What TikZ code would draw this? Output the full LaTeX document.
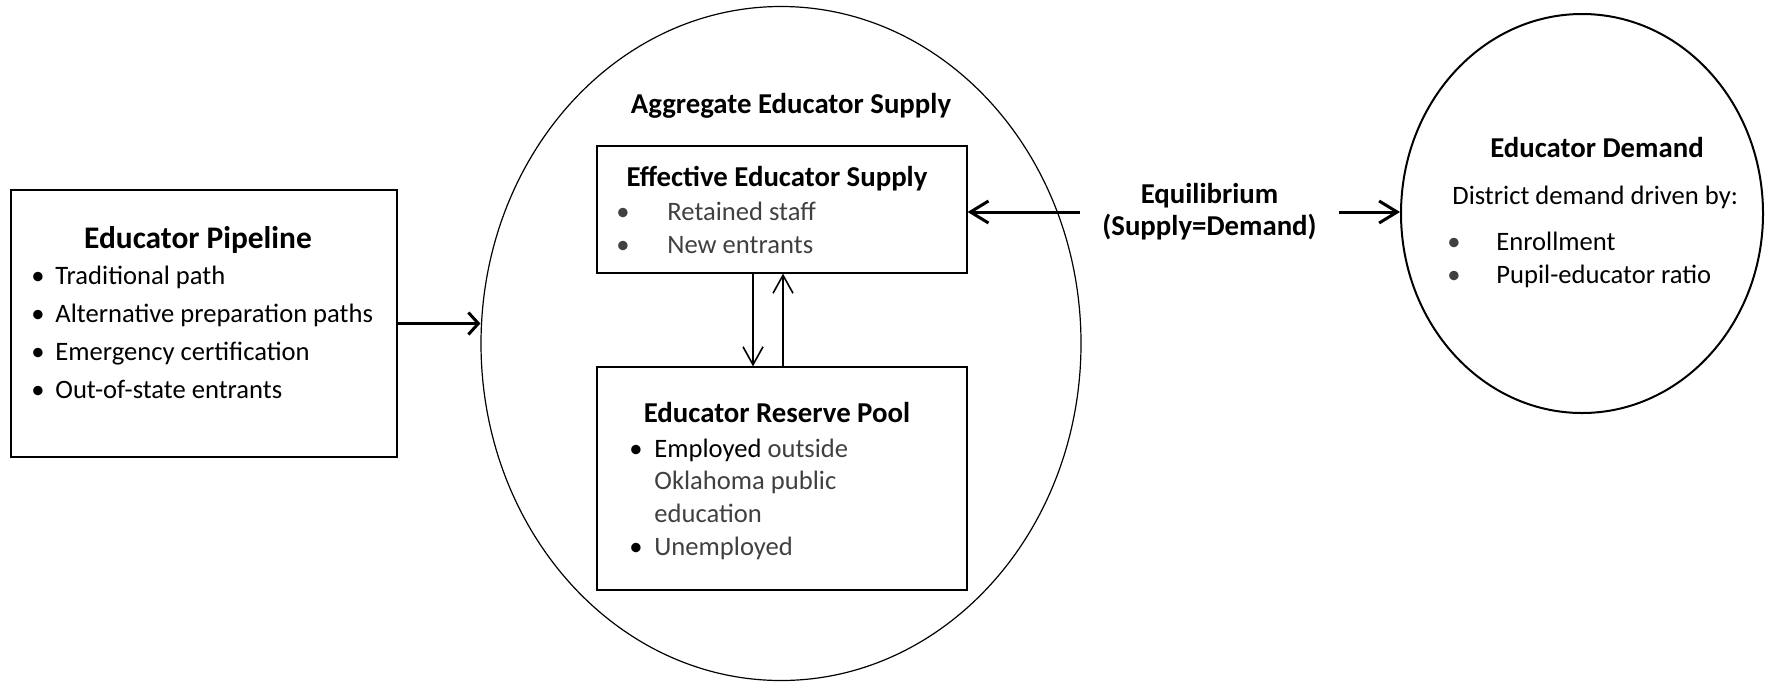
\documentclass[tikz,border=0pt]{standalone}
\usepackage{fontspec}
\setmainfont{Carlito}
\usetikzlibrary{shapes.geometric,arrows.meta}
\definecolor{textgray}{HTML}{404040}
\newcommand{\bodysize}{\fontsize{13.3}{16.5}\selectfont}
\newcommand{\headsize}{\fontsize{14.4}{16}\selectfont\bfseries}
\newcommand{\bigheadsize}{\fontsize{15.7}{18}\selectfont\bfseries}

\begin{document}
\begin{tikzpicture}
[x=0.5pt,y=-0.5pt,
  boxDecorate/.style={shape=rectangle,draw,line width=0.6pt,inner sep=0pt},%
  ellipseDecorate/.style={shape=ellipse,draw,line width=0.6pt,inner sep=0pt},%
  titleDecorate/.style={anchor=base,inner sep=0pt,font=\headsize},%
  itemDecorate/.style={anchor=base west,inner sep=0pt,font=\bodysize},%
  dotDecorate/.style={anchor=base,inner sep=0pt,font=\bodysize},%
  thickArrow/.style={-{Straight Barb[length=5pt,width=11pt]},line width=1.5pt},%
  wideArrow/.style={-{Straight Barb[length=9pt,width=11pt]},line width=1.5pt},%
  thinArrow/.style={-{Straight Barb[length=9pt,width=10pt]},line width=0.8pt}]
\useasboundingbox (0,0) rectangle (1765,681);
%% outer shapes
\node (pipeline) at (204,323.5) [boxDecorate,minimum width=193pt,minimum height=133.5pt] {};
\node (supply) at (781,343.5) [ellipseDecorate,minimum width=300pt,minimum height=337pt] {};
\node (effective) at (782,209.5) [boxDecorate,minimum width=185pt,minimum height=63.5pt] {};
\node (reserve) at (782,478.5) [boxDecorate,minimum width=185pt,minimum height=111.5pt] {};
\node (demand) at (1582,213.5) [ellipseDecorate,line width=1pt,minimum width=181pt,minimum height=199.5pt] {};
\node (equil) at (1209.5,212) [font=\headsize,align=center,inner xsep=11pt] {Equilibrium\\(Supply=Demand)};

%% titles
\node (pipelineTitle) at (198,248) [titleDecorate,font=\bigheadsize] {Educator Pipeline};
\node (supplyTitle) at (791,113) [titleDecorate] {Aggregate Educator Supply};
\node (effectiveTitle) at (777,186) [titleDecorate] {Effective Educator Supply};
\node (reserveTitle) at (777,422) [titleDecorate] {Educator Reserve Pool};
\node (demandTitle) at (1597,157) [titleDecorate] {Educator Demand};

%% bullet lists
\foreach \i/\y/\txt in {1/284/Traditional path, 2/322/Alternative preparation paths,
  3/360/Emergency certification, 4/398/Out-of-state entrants}
{
  \node (pipeDot\i) at (38,\y) [dotDecorate] {\textbullet};
  \node (pipeItem\i) at (55,\y) [itemDecorate] {\txt};
}
\foreach \i/\y/\txt in {1/220/Retained staff, 2/253/New entrants}
{
  \node (effDot\i) at (623,\y) [dotDecorate,text=textgray] {\textbullet};
  \node (effItem\i) at (667,\y) [itemDecorate,text=textgray] {\txt};
}
\node (resDot1) at (636,457) [dotDecorate] {\textbullet};
\node (resItem1) at (654,457) [itemDecorate] {Employed \textcolor{textgray}{outside}};
\node (resItem2) at (654,489) [itemDecorate,text=textgray] {Oklahoma public};
\node (resItem3) at (654,522) [itemDecorate,text=textgray] {education};
\node (resDot2) at (636,555) [dotDecorate] {\textbullet};
\node (resItem4) at (654,555) [itemDecorate,text=textgray] {Unemployed};
\node (demandLead) at (1452,204) [itemDecorate] {District demand driven by:};
\foreach \i/\y/\txt in {1/250/Enrollment, 2/283/Pupil-educator ratio}
{
  \node (demDot\i) at (1454,\y) [dotDecorate,text=textgray] {\textbullet};
  \node (demItem\i) at (1496,\y) [itemDecorate] {\txt};
}

%% connectors
\draw[thickArrow] (pipeline.east) -- (pipeline.east -| supply.west);
\draw[wideArrow] (equil.west) -- (equil.west -| effective.east);
\draw[wideArrow] (equil.east) -- (equil.east -| demand.west);
\draw[thinArrow] ([xshift=-14.5pt]effective.south) -- ([xshift=-14.5pt]reserve.north);
\draw[thinArrow] ([xshift=0.5pt]reserve.north) -- ([xshift=0.5pt]effective.south);
\end{tikzpicture}
\end{document}
